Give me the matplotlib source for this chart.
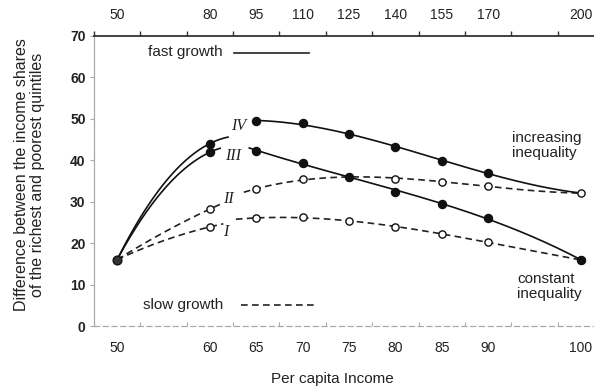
import numpy as np
import matplotlib
matplotlib.use("Agg")
import matplotlib.pyplot as plt

plt.rcParams['font.family'] = ['Liberation Sans', 'DejaVu Sans']

# ---- data ----
income_bottom = ["50", "60", "65", "70", "75", "80", "85", "90", "100"]
income_top = ["50", "80", "95", "110", "125", "140", "155", "170", "200"]
xpos = [0, 2, 3, 4, 5, 6, 7, 8, 10]

curve_IV = [16.0, 44.0, 49.4, 48.9, 46.2, 43.1, 39.9, 37.0, 32.0]
curve_III = [16.0, 41.9, 42.2, 39.4, 36.0, 32.4, 29.4, 26.1, 15.9]
curve_II = [16.0, 28.2, 33.0, 35.4, 36.0, 35.4, 34.8, 33.8, 32.0]
curve_I = [16.0, 23.9, 26.0, 26.2, 25.4, 23.9, 22.1, 20.3, 15.9]

yticks = [0, 10, 20, 30, 40, 50, 60, 70]

# ---- figure ----
fig = plt.figure(figsize=(5.94, 3.87), dpi=100)
ax = fig.add_axes([94 / 594, 61 / 387, 510 / 594, 290.3 / 387])
ax.set_xlim(-0.5, 10.5)
ax.set_ylim(0, 70)

x = np.array(xpos, dtype=float)
lw = 1.2
dash = (0, (4, 2.6))


def fit_tail(y, start):
    coef = np.polyfit(x[2:], np.array(y[2:]), 3)
    xs = np.linspace(start, 10, 200)
    return xs, np.polyval(coef, xs)


def solid_head(y, end):
    xs = np.linspace(0, end, 100)
    t = xs / 2.0
    return xs, y[0] + (y[1] - y[0]) * (1.6 * t - 0.6 * t ** 2)


def dashed_head(y, end):
    coef = np.polyfit(x[:3], np.array(y[:3]), 2)
    xs = np.linspace(0, end, 100)
    return xs, np.polyval(coef, xs)


# dashed curves
for y, hend, tstart in [(curve_II, 2.27, 2.73), (curve_I, 2.29, 2.56)]:
    xs, ys = dashed_head(y, hend)
    ax.plot(xs, ys, color='#222222', lw=lw, ls=dash, zorder=2)
    xs, ys = fit_tail(y, tstart)
    ax.plot(xs, ys, color='#222222', lw=lw, ls=dash, zorder=2)

# solid curves
for y, hend, tstart in [(curve_IV, 2.39, 3.0), (curve_III, 2.22, 2.85)]:
    xs, ys = solid_head(y, hend)
    ax.plot(xs, ys, color='#111111', lw=lw, zorder=3)
    xs, ys = fit_tail(y, tstart)
    ax.plot(xs, ys, color='#111111', lw=lw, zorder=3)

# markers
ms = 5.8
ax.plot(x[1:], curve_I[1:], 'o', ms=ms - 0.6, mfc='white', mec='#111111', mew=1.0, zorder=4)
ax.plot(x[1:], curve_II[1:], 'o', ms=ms - 0.6, mfc='white', mec='#111111', mew=1.0, zorder=4)
ax.plot(x[1:-1], curve_IV[1:-1], 'o', ms=ms, mfc='#111111', mec='#111111', zorder=5)
ax.plot(x[1:], curve_III[1:], 'o', ms=ms, mfc='#111111', mec='#111111', zorder=5)
ax.plot(x[0], curve_I[0], 'o', ms=ms + 0.5, mfc='#333333', mec='#111111', mew=1.0, zorder=5)

# curve labels
lab_kw = dict(family=['Liberation Serif', 'DejaVu Serif'], style='italic',
              fontsize=11.5, color='#222222', ha='center', va='center', zorder=6)
ax.text(2.62, 48.2, 'IV', **lab_kw)
ax.text(2.50, 41.0, 'III', **lab_kw)
ax.text(2.41, 30.7, 'II', **lab_kw)
ax.text(2.35, 22.7, 'I', **lab_kw)

# legend-like annotations
txt_kw = dict(fontsize=11, color='#222222')
ax.text(0.67, 66.0, 'fast growth', ha='left', va='center', **txt_kw)
ax.plot([2.52, 4.13], [65.8, 65.8], color='#222222', lw=lw)
ax.text(0.56, 5.1, 'slow growth', ha='left', va='center', **txt_kw)
ax.plot([2.67, 4.24], [5.1, 5.1], color='#222222', lw=lw, ls=dash)

ax.text(8.52, 43.5, 'increasing\ninequality', ha='left', va='center',
        linespacing=1.15, **txt_kw)
ax.text(8.63, 9.5, 'constant\ninequality', ha='left', va='center',
        linespacing=1.15, **txt_kw)

# axes styling
for s in ['right', 'top']:
    ax.spines[s].set_visible(False)
ax.spines['left'].set_color('#aaaaaa')
ax.spines['left'].set_linewidth(0.9)
ax.spines['bottom'].set_color('#aaaaaa')
ax.spines['bottom'].set_linestyle((0, (4, 3)))
ax.spines['bottom'].set_linewidth(0.9)

ax.set_yticks(yticks)
ax.set_yticklabels([str(v) for v in yticks], fontweight='bold', fontsize=10, color='#222222')
ax.tick_params(axis='y', length=3, width=0.8, color='#aaaaaa', pad=3)

ax.set_xticks(xpos)
ax.set_xticklabels(income_bottom, fontsize=10, color='#222222')
ax.set_xticks(np.arange(-0.5, 11, 1.0), minor=True)
ax.tick_params(axis='x', which='major', length=0, pad=11)
ax.tick_params(axis='x', which='minor', length=3, direction='in', color='#aaaaaa', width=0.8)

top = ax.twiny()
top.set_xlim(ax.get_xlim())
top.set_ylim(ax.get_ylim())
for s in ['right', 'left', 'bottom']:
    top.spines[s].set_visible(False)
top.spines['top'].set_color('#333333')
top.spines['top'].set_linewidth(1.3)
top.set_xticks(xpos)
top.set_xticklabels(income_top, fontsize=10, color='#222222')
top.set_xticks(np.arange(-0.5, 11, 1.0), minor=True)
top.tick_params(axis='x', which='major', length=0, pad=10)
top.tick_params(axis='x', which='minor', length=3.5, direction='out', color='#333333', width=1.0)

fig.text(29.5 / 594, 1 - 175 / 387,
         'Difference between the income shares\nof the richest and poorest quintiles',
         rotation=90, ha='center', va='center', multialignment='center',
         fontsize=11.5, color='#222222', linespacing=1.1)
fig.text(332 / 594, 1 - 379 / 387, 'Per capita Income', ha='center', va='center',
         fontsize=11, color='#222222')

fig.savefig('out.png', dpi=100)
